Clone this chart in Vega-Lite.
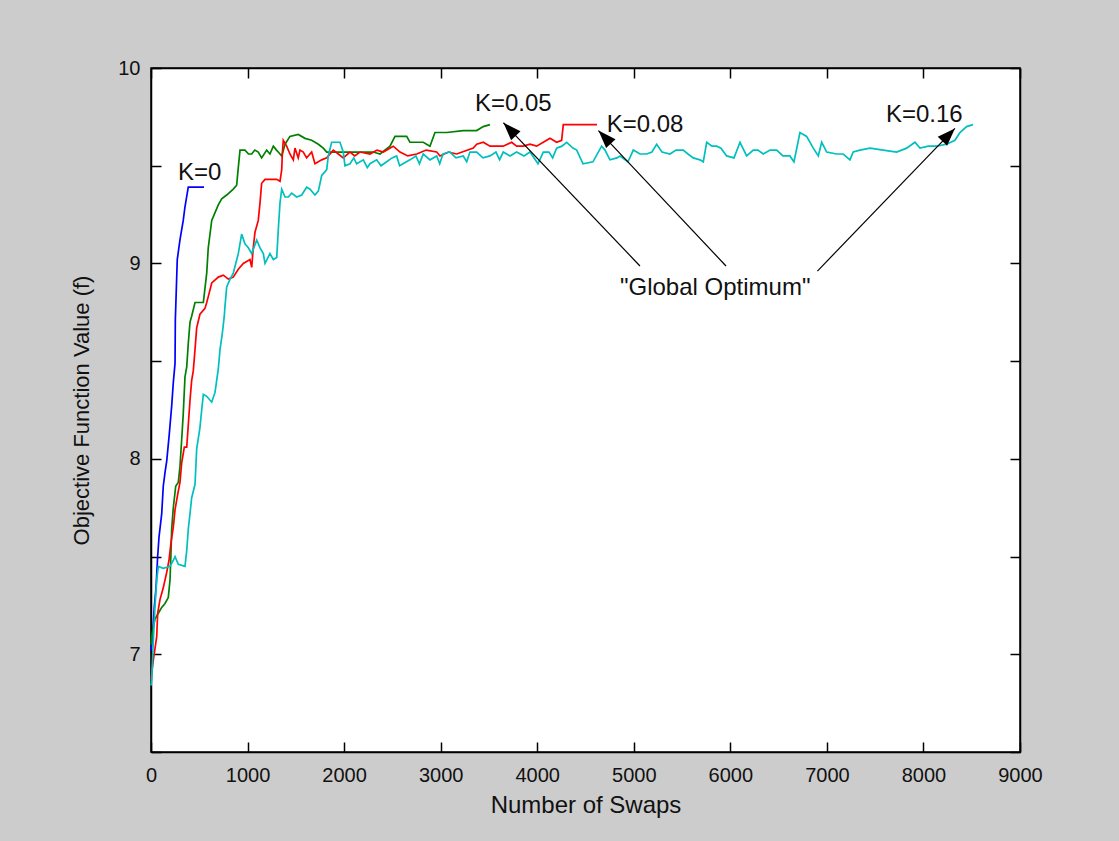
{
  "$schema": "https://vega.github.io/schema/vega-lite/v6.json",
  "width": 869,
  "height": 684,
  "autosize": {"type": "none"},
  "padding": {"left": 151, "top": 68, "right": 99, "bottom": 89},
  "background": "#cccccc",
  "config": {
    "view": {"fill": "white", "stroke": "#000", "strokeWidth": 1.5},
    "font": "Liberation Sans",
    "axis": {
      "domainColor": "#000", "domainWidth": 1.5,
      "tickColor": "#000", "tickWidth": 1.5, "tickSize": -10,
      "grid": false,
      "labelColor": "#111", "labelFontSize": 20, "labelFont": "Liberation Sans",
      "labelFlush": false, "labelOverlap": false,
      "titleFont": "Liberation Sans", "titleFontWeight": "normal", "titleColor": "#111"
    }
  },
  "datasets": {
    "curves": [
      {"K":"K=0","swaps":0,"f":7.02},{"K":"K=0","swaps":13,"f":7.07},{"K":"K=0","swaps":34,"f":7.24},{"K":"K=0","swaps":52,"f":7.34},{"K":"K=0","swaps":69,"f":7.50},{"K":"K=0","swaps":83,"f":7.60},{"K":"K=0","swaps":111,"f":7.72},{"K":"K=0","swaps":127,"f":7.86},{"K":"K=0","swaps":145,"f":7.93},{"K":"K=0","swaps":163,"f":7.99},{"K":"K=0","swaps":190,"f":8.13},{"K":"K=0","swaps":214,"f":8.27},{"K":"K=0","swaps":231,"f":8.39},{"K":"K=0","swaps":249,"f":8.49},{"K":"K=0","swaps":252,"f":8.71},{"K":"K=0","swaps":272,"f":9.02},{"K":"K=0","swaps":300,"f":9.12},{"K":"K=0","swaps":334,"f":9.22},{"K":"K=0","swaps":352,"f":9.29},{"K":"K=0","swaps":386,"f":9.39},{"K":"K=0","swaps":549,"f":9.39},

      {"K":"K=0.05","swaps":0,"f":7.05},{"K":"K=0.05","swaps":13,"f":7.11},{"K":"K=0.05","swaps":41,"f":7.18},{"K":"K=0.05","swaps":76,"f":7.21},{"K":"K=0.05","swaps":111,"f":7.24},{"K":"K=0.05","swaps":145,"f":7.26},{"K":"K=0.05","swaps":179,"f":7.29},{"K":"K=0.05","swaps":197,"f":7.38},{"K":"K=0.05","swaps":207,"f":7.52},{"K":"K=0.05","swaps":214,"f":7.64},{"K":"K=0.05","swaps":231,"f":7.75},{"K":"K=0.05","swaps":256,"f":7.86},{"K":"K=0.05","swaps":283,"f":7.88},{"K":"K=0.05","swaps":300,"f":7.96},{"K":"K=0.05","swaps":318,"f":8.10},{"K":"K=0.05","swaps":334,"f":8.23},{"K":"K=0.05","swaps":352,"f":8.42},{"K":"K=0.05","swaps":370,"f":8.47},{"K":"K=0.05","swaps":386,"f":8.59},{"K":"K=0.05","swaps":404,"f":8.70},{"K":"K=0.05","swaps":421,"f":8.73},{"K":"K=0.05","swaps":456,"f":8.80},{"K":"K=0.05","swaps":507,"f":8.80},{"K":"K=0.05","swaps":542,"f":8.80},{"K":"K=0.05","swaps":577,"f":8.95},{"K":"K=0.05","swaps":593,"f":9.08},{"K":"K=0.05","swaps":629,"f":9.22},{"K":"K=0.05","swaps":663,"f":9.26},{"K":"K=0.05","swaps":697,"f":9.30},{"K":"K=0.05","swaps":732,"f":9.33},{"K":"K=0.05","swaps":784,"f":9.35},{"K":"K=0.05","swaps":852,"f":9.38},{"K":"K=0.05","swaps":887,"f":9.40},{"K":"K=0.05","swaps":904,"f":9.49},{"K":"K=0.05","swaps":922,"f":9.58},{"K":"K=0.05","swaps":973,"f":9.58},{"K":"K=0.05","swaps":1010,"f":9.56},{"K":"K=0.05","swaps":1043,"f":9.56},{"K":"K=0.05","swaps":1075,"f":9.58},{"K":"K=0.05","swaps":1111,"f":9.57},{"K":"K=0.05","swaps":1146,"f":9.54},{"K":"K=0.05","swaps":1198,"f":9.58},{"K":"K=0.05","swaps":1232,"f":9.56},{"K":"K=0.05","swaps":1267,"f":9.60},{"K":"K=0.05","swaps":1300,"f":9.58},{"K":"K=0.05","swaps":1318,"f":9.57},{"K":"K=0.05","swaps":1354,"f":9.55},{"K":"K=0.05","swaps":1388,"f":9.61},{"K":"K=0.05","swaps":1439,"f":9.65},{"K":"K=0.05","swaps":1525,"f":9.66},{"K":"K=0.05","swaps":1595,"f":9.64},{"K":"K=0.05","swaps":1664,"f":9.63},{"K":"K=0.05","swaps":1733,"f":9.61},{"K":"K=0.05","swaps":1784,"f":9.59},{"K":"K=0.05","swaps":1820,"f":9.57},{"K":"K=0.05","swaps":1957,"f":9.57},{"K":"K=0.05","swaps":2130,"f":9.57},{"K":"K=0.05","swaps":2302,"f":9.57},{"K":"K=0.05","swaps":2372,"f":9.56},{"K":"K=0.05","swaps":2475,"f":9.60},{"K":"K=0.05","swaps":2527,"f":9.65},{"K":"K=0.05","swaps":2648,"f":9.65},{"K":"K=0.05","swaps":2682,"f":9.62},{"K":"K=0.05","swaps":2820,"f":9.62},{"K":"K=0.05","swaps":2889,"f":9.60},{"K":"K=0.05","swaps":2941,"f":9.67},{"K":"K=0.05","swaps":3062,"f":9.67},{"K":"K=0.05","swaps":3234,"f":9.68},{"K":"K=0.05","swaps":3373,"f":9.68},{"K":"K=0.05","swaps":3441,"f":9.70},{"K":"K=0.05","swaps":3511,"f":9.71},

      {"K":"K=0.08","swaps":0,"f":6.87},{"K":"K=0.08","swaps":7,"f":6.90},{"K":"K=0.08","swaps":24,"f":6.97},{"K":"K=0.08","swaps":59,"f":7.09},{"K":"K=0.08","swaps":69,"f":7.21},{"K":"K=0.08","swaps":93,"f":7.28},{"K":"K=0.08","swaps":127,"f":7.34},{"K":"K=0.08","swaps":163,"f":7.42},{"K":"K=0.08","swaps":186,"f":7.48},{"K":"K=0.08","swaps":207,"f":7.57},{"K":"K=0.08","swaps":231,"f":7.65},{"K":"K=0.08","swaps":249,"f":7.74},{"K":"K=0.08","swaps":277,"f":7.82},{"K":"K=0.08","swaps":300,"f":7.88},{"K":"K=0.08","swaps":318,"f":7.98},{"K":"K=0.08","swaps":345,"f":8.06},{"K":"K=0.08","swaps":370,"f":8.06},{"K":"K=0.08","swaps":404,"f":8.30},{"K":"K=0.08","swaps":421,"f":8.40},{"K":"K=0.08","swaps":438,"f":8.45},{"K":"K=0.08","swaps":456,"f":8.56},{"K":"K=0.08","swaps":473,"f":8.67},{"K":"K=0.08","swaps":507,"f":8.74},{"K":"K=0.08","swaps":559,"f":8.77},{"K":"K=0.08","swaps":577,"f":8.80},{"K":"K=0.08","swaps":593,"f":8.83},{"K":"K=0.08","swaps":629,"f":8.90},{"K":"K=0.08","swaps":697,"f":8.93},{"K":"K=0.08","swaps":749,"f":8.94},{"K":"K=0.08","swaps":801,"f":8.92},{"K":"K=0.08","swaps":852,"f":8.93},{"K":"K=0.08","swaps":904,"f":8.97},{"K":"K=0.08","swaps":956,"f":9.00},{"K":"K=0.08","swaps":1025,"f":9.02},{"K":"K=0.08","swaps":1043,"f":8.98},{"K":"K=0.08","swaps":1059,"f":9.08},{"K":"K=0.08","swaps":1077,"f":9.16},{"K":"K=0.08","swaps":1111,"f":9.22},{"K":"K=0.08","swaps":1129,"f":9.31},{"K":"K=0.08","swaps":1146,"f":9.41},{"K":"K=0.08","swaps":1181,"f":9.43},{"K":"K=0.08","swaps":1232,"f":9.43},{"K":"K=0.08","swaps":1302,"f":9.43},{"K":"K=0.08","swaps":1336,"f":9.42},{"K":"K=0.08","swaps":1354,"f":9.48},{"K":"K=0.08","swaps":1360,"f":9.56},{"K":"K=0.08","swaps":1370,"f":9.63},{"K":"K=0.08","swaps":1405,"f":9.60},{"K":"K=0.08","swaps":1439,"f":9.56},{"K":"K=0.08","swaps":1474,"f":9.53},{"K":"K=0.08","swaps":1491,"f":9.59},{"K":"K=0.08","swaps":1525,"f":9.54},{"K":"K=0.08","swaps":1543,"f":9.58},{"K":"K=0.08","swaps":1577,"f":9.57},{"K":"K=0.08","swaps":1612,"f":9.54},{"K":"K=0.08","swaps":1664,"f":9.57},{"K":"K=0.08","swaps":1698,"f":9.51},{"K":"K=0.08","swaps":1768,"f":9.53},{"K":"K=0.08","swaps":1820,"f":9.54},{"K":"K=0.08","swaps":1888,"f":9.58},{"K":"K=0.08","swaps":1940,"f":9.56},{"K":"K=0.08","swaps":1991,"f":9.54},{"K":"K=0.08","swaps":2061,"f":9.57},{"K":"K=0.08","swaps":2110,"f":9.55},{"K":"K=0.08","swaps":2164,"f":9.57},{"K":"K=0.08","swaps":2268,"f":9.56},{"K":"K=0.08","swaps":2340,"f":9.58},{"K":"K=0.08","swaps":2406,"f":9.57},{"K":"K=0.08","swaps":2509,"f":9.60},{"K":"K=0.08","swaps":2579,"f":9.57},{"K":"K=0.08","swaps":2660,"f":9.55},{"K":"K=0.08","swaps":2752,"f":9.56},{"K":"K=0.08","swaps":2850,"f":9.58},{"K":"K=0.08","swaps":2959,"f":9.57},{"K":"K=0.08","swaps":2993,"f":9.55},{"K":"K=0.08","swaps":3080,"f":9.57},{"K":"K=0.08","swaps":3166,"f":9.56},{"K":"K=0.08","swaps":3338,"f":9.59},{"K":"K=0.08","swaps":3373,"f":9.61},{"K":"K=0.08","swaps":3441,"f":9.62},{"K":"K=0.08","swaps":3511,"f":9.60},{"K":"K=0.08","swaps":3648,"f":9.60},{"K":"K=0.08","swaps":3735,"f":9.62},{"K":"K=0.08","swaps":3787,"f":9.60},{"K":"K=0.08","swaps":3856,"f":9.60},{"K":"K=0.08","swaps":3925,"f":9.61},{"K":"K=0.08","swaps":3994,"f":9.60},{"K":"K=0.08","swaps":4063,"f":9.62},{"K":"K=0.08","swaps":4132,"f":9.64},{"K":"K=0.08","swaps":4201,"f":9.62},{"K":"K=0.08","swaps":4253,"f":9.63},{"K":"K=0.08","swaps":4270,"f":9.71},{"K":"K=0.08","swaps":4443,"f":9.71},{"K":"K=0.08","swaps":4619,"f":9.71},

      {"K":"K=0.16","swaps":0,"f":6.84},{"K":"K=0.16","swaps":7,"f":6.87},{"K":"K=0.16","swaps":24,"f":7.07},{"K":"K=0.16","swaps":41,"f":7.24},{"K":"K=0.16","swaps":59,"f":7.38},{"K":"K=0.16","swaps":76,"f":7.45},{"K":"K=0.16","swaps":127,"f":7.44},{"K":"K=0.16","swaps":197,"f":7.45},{"K":"K=0.16","swaps":231,"f":7.48},{"K":"K=0.16","swaps":249,"f":7.50},{"K":"K=0.16","swaps":283,"f":7.46},{"K":"K=0.16","swaps":352,"f":7.45},{"K":"K=0.16","swaps":370,"f":7.53},{"K":"K=0.16","swaps":386,"f":7.64},{"K":"K=0.16","swaps":404,"f":7.72},{"K":"K=0.16","swaps":421,"f":7.80},{"K":"K=0.16","swaps":456,"f":7.87},{"K":"K=0.16","swaps":473,"f":8.05},{"K":"K=0.16","swaps":507,"f":8.16},{"K":"K=0.16","swaps":525,"f":8.25},{"K":"K=0.16","swaps":542,"f":8.33},{"K":"K=0.16","swaps":577,"f":8.32},{"K":"K=0.16","swaps":629,"f":8.29},{"K":"K=0.16","swaps":663,"f":8.34},{"K":"K=0.16","swaps":680,"f":8.40},{"K":"K=0.16","swaps":697,"f":8.46},{"K":"K=0.16","swaps":715,"f":8.56},{"K":"K=0.16","swaps":738,"f":8.64},{"K":"K=0.16","swaps":759,"f":8.73},{"K":"K=0.16","swaps":766,"f":8.78},{"K":"K=0.16","swaps":784,"f":8.88},{"K":"K=0.16","swaps":819,"f":8.92},{"K":"K=0.16","swaps":852,"f":8.95},{"K":"K=0.16","swaps":904,"f":9.05},{"K":"K=0.16","swaps":939,"f":9.15},{"K":"K=0.16","swaps":973,"f":9.10},{"K":"K=0.16","swaps":1008,"f":9.08},{"K":"K=0.16","swaps":1043,"f":9.05},{"K":"K=0.16","swaps":1095,"f":9.12},{"K":"K=0.16","swaps":1129,"f":9.08},{"K":"K=0.16","swaps":1163,"f":9.05},{"K":"K=0.16","swaps":1181,"f":9.00},{"K":"K=0.16","swaps":1232,"f":9.05},{"K":"K=0.16","swaps":1267,"f":9.02},{"K":"K=0.16","swaps":1302,"f":9.03},{"K":"K=0.16","swaps":1318,"f":9.17},{"K":"K=0.16","swaps":1336,"f":9.31},{"K":"K=0.16","swaps":1354,"f":9.38},{"K":"K=0.16","swaps":1388,"f":9.34},{"K":"K=0.16","swaps":1422,"f":9.34},{"K":"K=0.16","swaps":1457,"f":9.36},{"K":"K=0.16","swaps":1509,"f":9.34},{"K":"K=0.16","swaps":1561,"f":9.35},{"K":"K=0.16","swaps":1612,"f":9.39},{"K":"K=0.16","swaps":1647,"f":9.38},{"K":"K=0.16","swaps":1698,"f":9.35},{"K":"K=0.16","swaps":1733,"f":9.37},{"K":"K=0.16","swaps":1768,"f":9.45},{"K":"K=0.16","swaps":1820,"f":9.48},{"K":"K=0.16","swaps":1836,"f":9.55},{"K":"K=0.16","swaps":1871,"f":9.62},{"K":"K=0.16","swaps":1906,"f":9.62},{"K":"K=0.16","swaps":1957,"f":9.62},{"K":"K=0.16","swaps":1991,"f":9.57},{"K":"K=0.16","swaps":2009,"f":9.50},{"K":"K=0.16","swaps":2061,"f":9.51},{"K":"K=0.16","swaps":2100,"f":9.54},{"K":"K=0.16","swaps":2130,"f":9.51},{"K":"K=0.16","swaps":2199,"f":9.53},{"K":"K=0.16","swaps":2240,"f":9.49},{"K":"K=0.16","swaps":2268,"f":9.51},{"K":"K=0.16","swaps":2337,"f":9.53},{"K":"K=0.16","swaps":2382,"f":9.50},{"K":"K=0.16","swaps":2441,"f":9.52},{"K":"K=0.16","swaps":2496,"f":9.54},{"K":"K=0.16","swaps":2544,"f":9.55},{"K":"K=0.16","swaps":2575,"f":9.50},{"K":"K=0.16","swaps":2610,"f":9.51},{"K":"K=0.16","swaps":2682,"f":9.53},{"K":"K=0.16","swaps":2744,"f":9.55},{"K":"K=0.16","swaps":2780,"f":9.51},{"K":"K=0.16","swaps":2820,"f":9.56},{"K":"K=0.16","swaps":2889,"f":9.53},{"K":"K=0.16","swaps":2959,"f":9.55},{"K":"K=0.16","swaps":2990,"f":9.51},{"K":"K=0.16","swaps":3024,"f":9.56},{"K":"K=0.16","swaps":3096,"f":9.57},{"K":"K=0.16","swaps":3159,"f":9.54},{"K":"K=0.16","swaps":3234,"f":9.55},{"K":"K=0.16","swaps":3270,"f":9.52},{"K":"K=0.16","swaps":3303,"f":9.57},{"K":"K=0.16","swaps":3373,"f":9.57},{"K":"K=0.16","swaps":3438,"f":9.54},{"K":"K=0.16","swaps":3511,"f":9.55},{"K":"K=0.16","swaps":3573,"f":9.57},{"K":"K=0.16","swaps":3610,"f":9.53},{"K":"K=0.16","swaps":3648,"f":9.57},{"K":"K=0.16","swaps":3718,"f":9.55},{"K":"K=0.16","swaps":3787,"f":9.57},{"K":"K=0.16","swaps":3863,"f":9.55},{"K":"K=0.16","swaps":3925,"f":9.57},{"K":"K=0.16","swaps":4008,"f":9.51},{"K":"K=0.16","swaps":4063,"f":9.57},{"K":"K=0.16","swaps":4122,"f":9.57},{"K":"K=0.16","swaps":4160,"f":9.54},{"K":"K=0.16","swaps":4201,"f":9.59},{"K":"K=0.16","swaps":4256,"f":9.60},{"K":"K=0.16","swaps":4305,"f":9.62},{"K":"K=0.16","swaps":4370,"f":9.59},{"K":"K=0.16","swaps":4409,"f":9.58},{"K":"K=0.16","swaps":4474,"f":9.51},{"K":"K=0.16","swaps":4577,"f":9.52},{"K":"K=0.16","swaps":4667,"f":9.60},{"K":"K=0.16","swaps":4702,"f":9.58},{"K":"K=0.16","swaps":4753,"f":9.53},{"K":"K=0.16","swaps":4826,"f":9.54},{"K":"K=0.16","swaps":4857,"f":9.55},{"K":"K=0.16","swaps":4940,"f":9.52},{"K":"K=0.16","swaps":4995,"f":9.58},{"K":"K=0.16","swaps":5064,"f":9.56},{"K":"K=0.16","swaps":5134,"f":9.56},{"K":"K=0.16","swaps":5188,"f":9.57},{"K":"K=0.16","swaps":5237,"f":9.61},{"K":"K=0.16","swaps":5292,"f":9.57},{"K":"K=0.16","swaps":5375,"f":9.56},{"K":"K=0.16","swaps":5437,"f":9.58},{"K":"K=0.16","swaps":5512,"f":9.58},{"K":"K=0.16","swaps":5561,"f":9.56},{"K":"K=0.16","swaps":5616,"f":9.54},{"K":"K=0.16","swaps":5685,"f":9.53},{"K":"K=0.16","swaps":5720,"f":9.52},{"K":"K=0.16","swaps":5755,"f":9.62},{"K":"K=0.16","swaps":5810,"f":9.60},{"K":"K=0.16","swaps":5858,"f":9.60},{"K":"K=0.16","swaps":5903,"f":9.59},{"K":"K=0.16","swaps":5962,"f":9.55},{"K":"K=0.16","swaps":6038,"f":9.54},{"K":"K=0.16","swaps":6100,"f":9.62},{"K":"K=0.16","swaps":6169,"f":9.55},{"K":"K=0.16","swaps":6237,"f":9.58},{"K":"K=0.16","swaps":6286,"f":9.58},{"K":"K=0.16","swaps":6341,"f":9.56},{"K":"K=0.16","swaps":6411,"f":9.58},{"K":"K=0.16","swaps":6480,"f":9.58},{"K":"K=0.16","swaps":6545,"f":9.55},{"K":"K=0.16","swaps":6617,"f":9.55},{"K":"K=0.16","swaps":6659,"f":9.52},{"K":"K=0.16","swaps":6721,"f":9.67},{"K":"K=0.16","swaps":6790,"f":9.65},{"K":"K=0.16","swaps":6859,"f":9.59},{"K":"K=0.16","swaps":6911,"f":9.55},{"K":"K=0.16","swaps":6946,"f":9.62},{"K":"K=0.16","swaps":6998,"f":9.57},{"K":"K=0.16","swaps":7101,"f":9.56},{"K":"K=0.16","swaps":7169,"f":9.56},{"K":"K=0.16","swaps":7239,"f":9.53},{"K":"K=0.16","swaps":7273,"f":9.57},{"K":"K=0.16","swaps":7342,"f":9.58},{"K":"K=0.16","swaps":7446,"f":9.59},{"K":"K=0.16","swaps":7584,"f":9.58},{"K":"K=0.16","swaps":7722,"f":9.57},{"K":"K=0.16","swaps":7826,"f":9.59},{"K":"K=0.16","swaps":7912,"f":9.62},{"K":"K=0.16","swaps":7964,"f":9.59},{"K":"K=0.16","swaps":8050,"f":9.60},{"K":"K=0.16","swaps":8137,"f":9.60},{"K":"K=0.16","swaps":8240,"f":9.61},{"K":"K=0.16","swaps":8326,"f":9.63},{"K":"K=0.16","swaps":8378,"f":9.67},{"K":"K=0.16","swaps":8447,"f":9.70},{"K":"K=0.16","swaps":8513,"f":9.71}
    ],
    "labels": [
      {"label": "K=0", "x": 280, "y": 9.465},
      {"label": "K=0.05", "x": 3355, "y": 9.816},
      {"label": "K=0.08", "x": 4719, "y": 9.708},
      {"label": "K=0.16", "x": 7612, "y": 9.76},
      {"label": "\"Global Optimum\"", "x": 4857, "y": 8.874}
    ],
    "arrows": [
      {"target": "K=0.05", "x_start": 5064, "y_start": 8.987, "x_end": 3650, "y_end": 9.720},
      {"target": "K=0.08", "x_start": 5955, "y_start": 8.987, "x_end": 4634, "y_end": 9.680},
      {"target": "K=0.16", "x_start": 6902, "y_start": 8.961, "x_end": 8326, "y_end": 9.691}
    ]
  },
  "layer": [
    {
      "data": {"name": "curves"},
      "mark": {"type": "line", "strokeWidth": 1.7},
      "encoding": {
        "x": {
          "field": "swaps", "type": "quantitative",
          "scale": {"domain": [0, 9000], "nice": false, "zero": false},
          "axis": {"orient": "bottom", "values": [0,1000,2000,3000,4000,5000,6000,7000,8000,9000], "format": "d", "labelPadding": 23, "title": "Number of Swaps", "titleFontSize": 24, "titlePadding": 8}
        },
        "y": {
          "field": "f", "type": "quantitative",
          "scale": {"domain": [6.5, 10], "nice": false, "zero": false},
          "axis": {"orient": "left", "values": [6.5,7,7.5,8,8.5,9,9.5,10], "labelExpr": "datum.value % 1 === 0 ? format(datum.value, 'd') : ''", "labelPadding": 21, "title": "Objective Function Value (f)", "titleFontSize": 22, "titlePadding": 24}
        },
        "color": {
          "field": "K", "type": "nominal",
          "scale": {"domain": ["K=0", "K=0.05", "K=0.08", "K=0.16"], "range": ["#0000ff", "#008000", "#ff0000", "#00bfbf"]},
          "legend": null
        }
      }
    },
    {
      "data": {"name": "arrows"},
      "mark": {"type": "rule", "color": "#000", "strokeWidth": 1.2},
      "encoding": {
        "x": {"field": "x_start", "type": "quantitative", "axis": {"orient": "top", "values": [0,1000,2000,3000,4000,5000,6000,7000,8000,9000], "labels": false, "title": null}},
        "y": {"field": "y_start", "type": "quantitative", "axis": {"orient": "right", "values": [6.5,7,7.5,8,8.5,9,9.5,10], "labels": false, "title": null}},
        "x2": {"field": "x_end"},
        "y2": {"field": "y_end"}
      }
    },
    {
      "data": {"name": "arrows"},
      "transform": [{"filter": "datum.target !== 'K=0.16'"}],
      "mark": {"type": "point", "shape": "M0,0 L-0.36,1 L0.36,1 Z", "size": 1296, "angle": 316.5, "filled": true, "color": "#000", "opacity": 1, "strokeWidth": 0},
      "encoding": {
        "x": {"field": "x_end", "type": "quantitative", "axis": null},
        "y": {"field": "y_end", "type": "quantitative", "axis": null}
      }
    },
    {
      "data": {"name": "arrows"},
      "transform": [{"filter": "datum.target === 'K=0.16'"}],
      "mark": {"type": "point", "shape": "M0,0 L-0.36,1 L0.36,1 Z", "size": 1296, "angle": 44, "filled": true, "color": "#000", "opacity": 1, "strokeWidth": 0},
      "encoding": {
        "x": {"field": "x_end", "type": "quantitative", "axis": null},
        "y": {"field": "y_end", "type": "quantitative", "axis": null}
      }
    },
    {
      "data": {"name": "labels"},
      "mark": {"type": "text", "align": "left", "baseline": "middle", "fontSize": 24, "color": "#111"},
      "encoding": {
        "x": {"field": "x", "type": "quantitative", "axis": null},
        "y": {"field": "y", "type": "quantitative", "axis": null},
        "text": {"field": "label"}
      }
    }
  ],
  "resolve": {"axis": {"x": "independent", "y": "independent"}}
}
